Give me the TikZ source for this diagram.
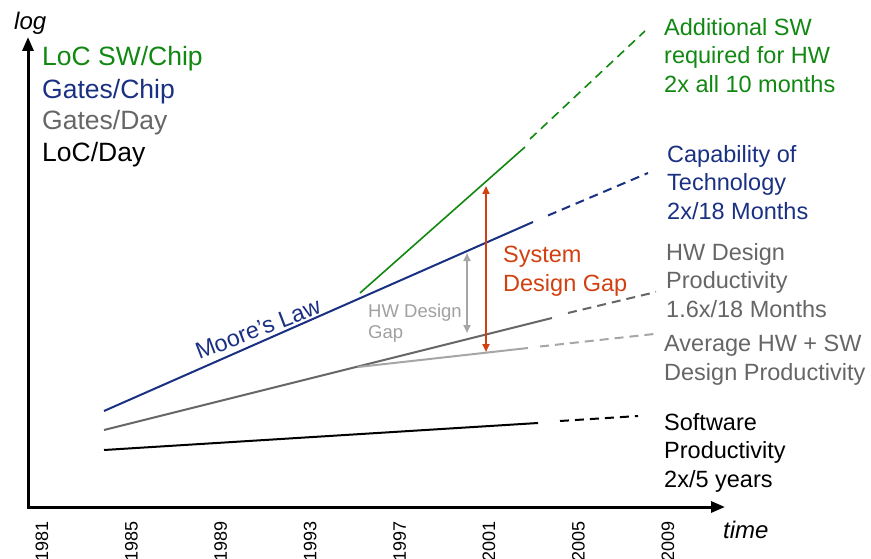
\documentclass[tikz,border=0pt]{standalone}
\usepackage{fontspec}
\setmainfont{Liberation Sans}
\usetikzlibrary{arrows.meta}
\definecolor{cgreen}{RGB}{17,136,17}
\definecolor{cblue}{RGB}{26,48,130}
\definecolor{cgray}{RGB}{102,102,102}
\definecolor{clight}{RGB}{166,166,166}
\definecolor{cgaptxt}{RGB}{160,160,160}
\definecolor{cred}{RGB}{208,64,16}
\begin{document}
\begin{tikzpicture}[x=1pt,y=-1pt,
  big/.style={font=\fontsize{23.5}{28.5}\selectfont, inner sep=0pt, anchor=north west, align=left},
  legend/.style={font=\fontsize{26.5}{32}\selectfont, inner sep=0pt, anchor=base west},
  year/.style={font=\fontsize{18}{20}\selectfont, inner sep=0pt, rotate=90, anchor=east},
  axislabel/.style={font=\fontsize{24}{27}\selectfont\itshape, inner sep=0pt, anchor=base west},
  solidline/.style={line width=2pt},
  dashline/.style={line width=2pt, dash pattern=on 9pt off 6pt},
  axis/.style={line width=3pt, -{Triangle[length=14pt,width=11pt]}},
  gaparrow/.style={line width=2pt, {Triangle[length=8pt,width=7pt]}-{Triangle[length=8pt,width=7pt]}}
]
\useasboundingbox (0,0) rectangle (871,559);

% axes
\coordinate (o) at (28,507);
\coordinate (ytop) at (28,37);
\coordinate (xend) at (725,507);
\draw[axis] (o) -- (ytop);
\draw[axis] ([xshift=-1.5pt]o) -- (xend);
\node[axislabel] (logl) at (14,30) {log};
\node[axislabel] (timel) at (723,538) {time};

% years
\foreach \yr [count=\i from 0] in {1981,1985,1989,1993,1997,2001,2005,2009}{
  \node[year] (y\yr) at ({42+89.4*\i},521) {\yr};
}

% legend
\node[legend, text=cgreen] (leg1) at (42,66) {LoC SW/Chip};
\node[legend, text=cblue] (leg2) at (42,99) {Gates/Chip};
\node[legend, text=cgray] (leg3) at (42,130) {Gates/Day};
\node[legend, text=black] (leg4) at (42,162) {LoC/Day};

% coordinates
\coordinate (b0) at (104,411); \coordinate (b1) at (533,222);
\coordinate (b2) at (548,215.5); \coordinate (b3) at (648,173);
\coordinate (g0) at (104,430); \coordinate (g1) at (552,318);
\coordinate (g2) at (568,313); \coordinate (g3) at (656,292);
\coordinate (l0) at (358,367); \coordinate (l1) at (528,348);
\coordinate (l2) at (540,346.5); \coordinate (l3) at (654,334);
\coordinate (k0) at (104,450); \coordinate (k1) at (538,423);
\coordinate (k2) at (560,421); \coordinate (k3) at (638,416);
\coordinate (n0) at (360,293); \coordinate (n1) at (525,147);
\coordinate (n2) at (530,139); \coordinate (n3) at (645,31);

% lines
\draw[solidline, cblue] (b0) -- (b1);
\draw[dashline, cblue] (b2) -- (b3);
\draw[solidline, cgray] (g0) -- (g1);
\draw[dashline, cgray] (g2) -- (g3);
\draw[solidline, clight] (l0) -- (l1);
\draw[dashline, clight] (l2) -- (l3);
\draw[solidline, black] (k0) -- (k1);
\draw[dashline, black] (k2) -- (k3);
\draw[line width=1.6pt, cgreen] (n0) -- (n1);
\draw[line width=1.6pt, cgreen, dash pattern=on 9pt off 6pt] (n2) -- (n3);

% gap arrows
\coordinate (r0) at (486,352); \coordinate (r1) at (486,186);
\coordinate (h0) at (467,333); \coordinate (h1) at (467,253);
\draw[gaparrow, cred] (r0) -- (r1);
\draw[gaparrow, clight] (h0) -- (h1);

% labels
\node[font=\fontsize{23.3}{26}\selectfont, text=cblue, inner sep=0pt, rotate=21] (moore) at (258,329) {Moore’s Law};
\node[big, text=cgreen] (addsw) at (664,18) {Additional SW\\required for HW\\2x all 10 months};
\node[big, text=cblue] (capab) at (667,145) {Capability of\\Technology\\2x/18 Months};
\node[big, text=cgray] (hwprod) at (666,243) {HW Design\\Productivity\\1.6x/18 Months};
\node[big, text=cgray] (avgprod) at (664,335) {Average HW + SW\\Design Productivity};
\node[big, text=black] (swprod) at (664,413) {Software\\Productivity\\2x/5 years};
\node[big, text=cred] (sysgap) at (503,246) {System\\Design Gap};
\node[font=\fontsize{18.5}{21}\selectfont, text=cgaptxt, inner sep=0pt, anchor=north west, align=left] (hwgap) at (368,304) {HW Design\\Gap};
\end{tikzpicture}
\end{document}
